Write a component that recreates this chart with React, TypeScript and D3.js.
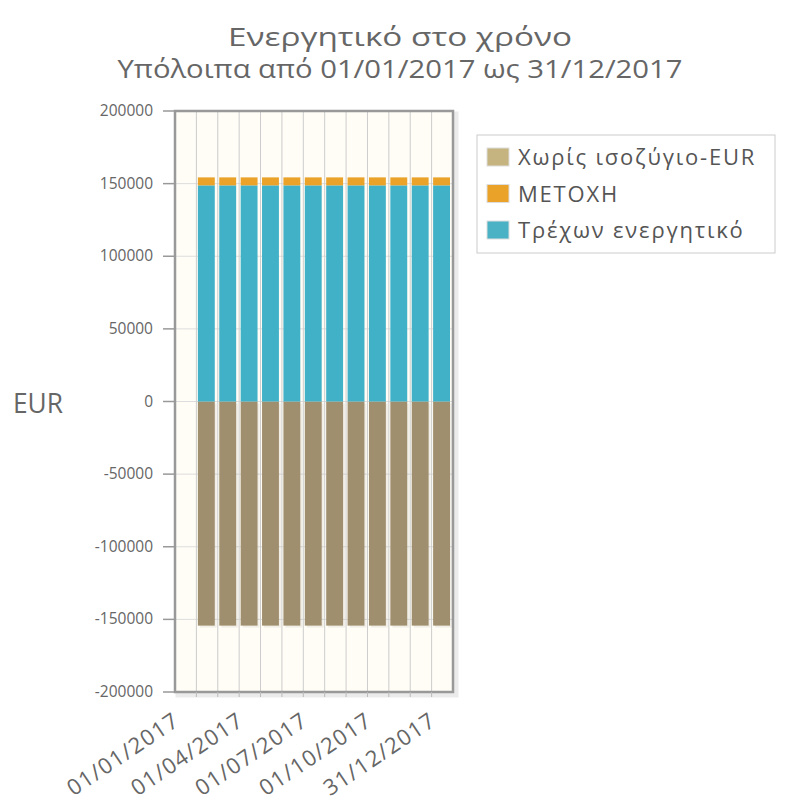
import React from "react";
import { scaleLinear } from "d3";

// monthly snapshots of the balance sheet, 2017
const months = [
  "31/01/2017", "28/02/2017", "31/03/2017", "30/04/2017", "31/05/2017", "30/06/2017",
  "31/07/2017", "31/08/2017", "30/09/2017", "31/10/2017", "30/11/2017", "31/12/2017",
];
const currentAssets = [148800, 148800, 148800, 148800, 148800, 148800, 148800, 148800, 148800, 148800, 148800, 148800];
const shares = [5500, 5500, 5500, 5500, 5500, 5500, 5500, 5500, 5500, 5500, 5500, 5500];
const noBalance = [-154300, -154300, -154300, -154300, -154300, -154300, -154300, -154300, -154300, -154300, -154300, -154300];

const seriesNames = ["Χωρίς ισοζύγιο-EUR", "ΜΕΤΟΧΗ", "Τρέχων ενεργητικό"];
const yTicks = [-200000, -150000, -100000, -50000, 0, 50000, 100000, 150000, 200000];
const xTickLabels = ["01/01/2017", "01/04/2017", "01/07/2017", "01/10/2017", "31/12/2017"];
const xTickSlots = [0, 3, 6, 9, 12];

const colors = {
  noBalance: "#a08f6e",
  shares: "#eaa228",
  current: "#41b1c8",
};
const legendColors = ["#c5b47f", "#eaa228", "#4bb2c5"];

const FONT = "'Open Sans', 'DejaVu Sans', sans-serif";

function StackedChart() {
  const left = 175, right = 453, top = 111, bottom = 692;
  const x = scaleLinear().domain([0, months.length + 1]).range([left, right]);
  const y = scaleLinear().domain([-200000, 200000]).range([bottom, top]);
  const slotW = x(1) - x(0);

  return (
    <svg width={789} height={803} style={{ position: "absolute", left: 0, top: 0 }}>
      <rect x={0} y={0} width={789} height={803} fill="#fff" />

      {/* titles */}
      <text x={400} y={46} textAnchor="middle" fontFamily={FONT} fontSize={25} fill="#666"
        textLength={344} lengthAdjust="spacingAndGlyphs">Ενεργητικό στο χρόνο</text>
      <text x={400} y={78} textAnchor="middle" fontFamily={FONT} fontSize={25} fill="#666"
        textLength={565} lengthAdjust="spacingAndGlyphs">Υπόλοιπα από 01/01/2017 ως 31/12/2017</text>

      {/* y label */}
      <text x={13} y={413} fontFamily={FONT} fontSize={27} fill="#666"
        textLength={50} lengthAdjust="spacingAndGlyphs">EUR</text>

      {/* plot background + shadow */}
      <rect x={left + 3} y={top + 3} width={right - left} height={bottom - top} fill="none" stroke="#000" strokeOpacity={0.08} strokeWidth={5} />
      <rect x={left} y={top} width={right - left} height={bottom - top} fill="#fffdf6" />

      {/* horizontal grid */}
      {yTicks.map(t => (
        <line key={"h" + t} x1={left} x2={right} y1={y(t)} y2={y(t)} stroke="#ddd" strokeWidth={1} />
      ))}
      {/* vertical grid */}
      {months.map((m, i) => (
        <line key={"v" + m} x1={x(i + 1)} x2={x(i + 1)} y1={top} y2={bottom} stroke="#ccc" strokeWidth={1} />
      ))}

      {/* bars */}
      {months.map((m, i) => {
        const bx = x(i + 1) + 1.5;
        const bw = slotW - 4.5;
        return (
          <g key={"b" + m}>
            <rect x={bx + 2} y={y(0) + 2} width={bw} height={y(noBalance[i]) - y(0)} fill="#000" fillOpacity={0.06} />
            <rect x={bx} y={y(0)} width={bw} height={y(noBalance[i]) - y(0)} fill={colors.noBalance} />
            <rect x={bx} y={y(currentAssets[i])} width={bw} height={y(0) - y(currentAssets[i])} fill={colors.current} />
            <rect x={bx} y={y(currentAssets[i] + shares[i])} width={bw}
              height={y(currentAssets[i]) - y(currentAssets[i] + shares[i])} fill={colors.shares} />
          </g>
        );
      })}

      {/* frame */}
      <rect x={left} y={top} width={right - left} height={bottom - top} fill="none" stroke="#999" strokeWidth={2.5} />

      {/* y axis ticks */}
      {yTicks.map(t => (
        <g key={"yt" + t}>
          <line x1={163} x2={left} y1={y(t)} y2={y(t)} stroke="#999" strokeWidth={1.5} />
          <text x={153} y={y(t) + 5} textAnchor="end" fontFamily={FONT} fontSize={15.5} fill="#666">{t}</text>
        </g>
      ))}

      {/* x axis small ticks */}
      {months.map((m, i) => (
        <line key={"xt" + m} x1={x(i + 1)} x2={x(i + 1)} y1={bottom} y2={bottom + 5} stroke="#bbb" strokeWidth={1} />
      ))}

      {/* x labels */}
      {xTickLabels.map((l, i) => {
        const tx = x(xTickSlots[i]) + 6;
        const ty = 724;
        return (
          <text key={"xl" + l} x={tx} y={ty} textAnchor="end" fontFamily={FONT} fontSize={22} fill="#666"
            letterSpacing={1.3} transform={`rotate(-34 ${tx} ${ty})`}>{l}</text>
        );
      })}

      {/* legend */}
      <rect x={477} y={135} width={298} height={118} fill="#fff" stroke="#ccc" strokeWidth={1} />
      {seriesNames.map((n, i) => {
        const ry = 157 + i * 36.5;
        return (
          <g key={"lg" + n}>
            <rect x={487} y={ry - 9} width={22} height={18} fill={legendColors[i]} stroke="#ddd" strokeWidth={1} />
            <text x={518} y={ry + 8} fontFamily={FONT} fontSize={22} letterSpacing={1.8} fill="#555">{n}</text>
          </g>
        );
      })}
    </svg>
  );
}

export default function App() {
  return <StackedChart />;
}
